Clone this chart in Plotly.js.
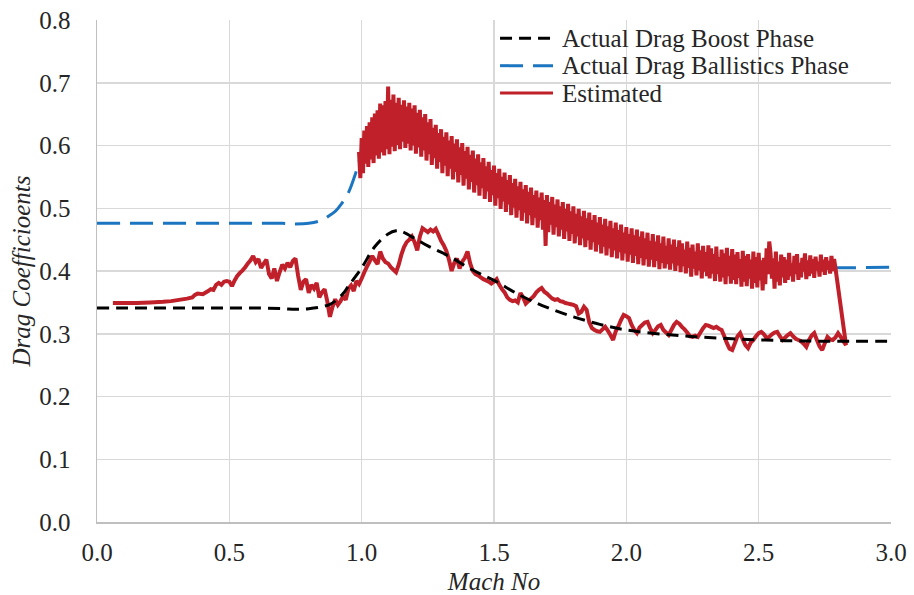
<!DOCTYPE html>
<html>
<head>
<meta charset="utf-8">
<script src="https://cdn.plot.ly/plotly-3.0.1.min.js"></script>
<style>html,body{margin:0;padding:0;background:#fff;}#chart{width:914px;height:595px;}</style>
</head>
<body>
<div id="chart"></div>
<script>
// ---- Actual drag, boost phase ----
const boostMach = [0, 0.1, 0.2, 0.3, 0.4, 0.5, 0.6, 0.7, 0.75, 0.8, 0.85, 0.88, 0.9, 0.93, 0.95, 1.0, 1.05, 1.1, 1.13, 1.15, 1.2, 1.25, 1.3, 1.35, 1.4, 1.45, 1.5, 1.6, 1.7, 1.8, 1.9, 2.0, 2.2, 2.4, 2.6, 2.8, 3.0];
const boostCd   = [0.341, 0.341, 0.341, 0.341, 0.341, 0.341, 0.341, 0.340, 0.339, 0.340, 0.343, 0.347, 0.352, 0.364, 0.376, 0.405, 0.439, 0.459, 0.464, 0.463, 0.452, 0.440, 0.430, 0.419, 0.406, 0.395, 0.385, 0.361, 0.342, 0.327, 0.315, 0.306, 0.297, 0.292, 0.289, 0.288, 0.288];

// ---- Actual drag, ballistics phase ----
const ballMach = [0, 0.1, 0.2, 0.3, 0.4, 0.5, 0.6, 0.7, 0.75, 0.8, 0.85, 0.88, 0.9, 0.92, 0.95, 0.975, 1.0, 1.05, 1.1, 1.15, 1.2, 1.3, 1.4, 1.5, 1.6, 1.7, 1.8, 1.9, 2.0, 2.1, 2.2, 2.3, 2.4, 2.5, 2.6, 2.8, 3.0];
const ballCd   = [0.476, 0.476, 0.476, 0.476, 0.476, 0.476, 0.476, 0.476, 0.475, 0.476, 0.481, 0.489, 0.495, 0.505, 0.525, 0.553, 0.585, 0.615, 0.632, 0.634, 0.628, 0.598, 0.566, 0.535, 0.507, 0.486, 0.468, 0.453, 0.440, 0.430, 0.421, 0.414, 0.409, 0.406, 0.405, 0.405, 0.406];

// ---- Estimated drag: boost leg (Mach increasing) ----
const estBoostMach = [0.06, 0.10, 0.15, 0.20, 0.25, 0.28, 0.31, 0.34, 0.36, 0.37, 0.38, 0.40, 0.42, 0.43, 0.44, 0.45, 0.46, 0.47, 0.48, 0.49,
  0.50, 0.51, 0.52, 0.53, 0.54, 0.55, 0.56, 0.57, 0.58, 0.59, 0.60, 0.61, 0.62, 0.63, 0.64, 0.65, 0.66, 0.67, 0.68, 0.69,
  0.70, 0.71, 0.72, 0.73, 0.74, 0.75, 0.76, 0.77, 0.78, 0.79, 0.80, 0.81, 0.82, 0.83, 0.84, 0.85, 0.86, 0.87, 0.88, 0.89,
  0.90, 0.91, 0.92, 0.93, 0.94, 0.95, 0.96, 0.97, 0.98, 0.99, 1.00, 1.01, 1.02, 1.03, 1.04, 1.05, 1.06, 1.07, 1.08, 1.09,
  1.10, 1.11, 1.12, 1.13, 1.14, 1.15, 1.16, 1.17, 1.18, 1.19, 1.20, 1.21, 1.22, 1.23, 1.24, 1.25, 1.26, 1.27, 1.28, 1.29,
  1.30, 1.31, 1.32, 1.33, 1.34, 1.35, 1.36, 1.37, 1.38, 1.39, 1.40, 1.41, 1.42, 1.43, 1.44, 1.45, 1.46, 1.47, 1.48, 1.49,
  1.50, 1.51, 1.52, 1.53, 1.54, 1.55, 1.56, 1.57, 1.58, 1.59, 1.60, 1.61, 1.62, 1.63, 1.64, 1.65, 1.66, 1.67, 1.68, 1.69,
  1.70, 1.71, 1.72, 1.73, 1.74, 1.75, 1.76, 1.77, 1.78, 1.79, 1.80, 1.81, 1.82, 1.83, 1.84, 1.85, 1.86, 1.87, 1.88, 1.89,
  1.90, 1.91, 1.92, 1.93, 1.94, 1.95, 1.96, 1.97, 1.98, 1.99, 2.00, 2.01, 2.02, 2.03, 2.04, 2.05, 2.06, 2.07, 2.08, 2.09,
  2.10, 2.11, 2.12, 2.13, 2.14, 2.15, 2.16, 2.17, 2.18, 2.19, 2.20, 2.21, 2.22, 2.23, 2.24, 2.25, 2.26, 2.27, 2.28, 2.29,
  2.30, 2.31, 2.32, 2.33, 2.34, 2.35, 2.36, 2.37, 2.38, 2.39, 2.40, 2.41, 2.42, 2.43, 2.44, 2.45, 2.46, 2.47, 2.48, 2.49,
  2.50, 2.51, 2.52, 2.53, 2.54, 2.55, 2.56, 2.57, 2.58, 2.59, 2.60, 2.61, 2.62, 2.63, 2.64, 2.65, 2.66, 2.67, 2.68, 2.69,
  2.70, 2.71, 2.72, 2.73, 2.74, 2.75, 2.76, 2.77, 2.78, 2.79, 2.80, 2.81, 2.82, 2.83];
const estBoostCd = [0.349, 0.349, 0.349, 0.350, 0.351, 0.352, 0.354, 0.356, 0.358, 0.362, 0.364, 0.363, 0.368, 0.371, 0.370, 0.378, 0.381, 0.378, 0.383, 0.384,
  0.383, 0.376, 0.385, 0.392, 0.397, 0.401, 0.406, 0.412, 0.417, 0.424, 0.414, 0.419, 0.405, 0.412, 0.418, 0.395, 0.388, 0.404, 0.384, 0.398,
  0.410, 0.404, 0.413, 0.406, 0.416, 0.420, 0.392, 0.370, 0.383, 0.387, 0.365, 0.378, 0.372, 0.381, 0.358, 0.366, 0.371, 0.352, 0.327, 0.343,
  0.355, 0.346, 0.352, 0.360, 0.354, 0.372, 0.377, 0.368, 0.384, 0.379, 0.388, 0.398, 0.407, 0.415, 0.424, 0.417, 0.411, 0.431, 0.420, 0.414,
  0.412, 0.406, 0.402, 0.398, 0.410, 0.426, 0.438, 0.446, 0.450, 0.455, 0.446, 0.433, 0.455, 0.468, 0.465, 0.462, 0.466, 0.463, 0.467, 0.458,
  0.448, 0.441, 0.432, 0.418, 0.400, 0.413, 0.420, 0.404, 0.415, 0.421, 0.431, 0.412, 0.400, 0.395, 0.393, 0.390, 0.387, 0.385, 0.383, 0.380,
  0.383, 0.387, 0.378, 0.371, 0.366, 0.358, 0.354, 0.352, 0.353, 0.350, 0.365, 0.358, 0.348, 0.352, 0.356, 0.360, 0.366, 0.370, 0.373, 0.367,
  0.364, 0.360, 0.356, 0.354, 0.355, 0.352, 0.351, 0.349, 0.348, 0.347, 0.346, 0.344, 0.332, 0.335, 0.343, 0.338, 0.318, 0.309, 0.306, 0.304,
  0.303, 0.307, 0.311, 0.305, 0.298, 0.290, 0.304, 0.312, 0.322, 0.330, 0.328, 0.325, 0.314, 0.306, 0.301, 0.310, 0.314, 0.318, 0.319, 0.309,
  0.301, 0.306, 0.312, 0.314, 0.306, 0.302, 0.298, 0.306, 0.314, 0.319, 0.316, 0.311, 0.307, 0.302, 0.296, 0.295, 0.297, 0.295, 0.302, 0.309,
  0.314, 0.313, 0.311, 0.309, 0.311, 0.308, 0.306, 0.296, 0.285, 0.276, 0.274, 0.285, 0.296, 0.301, 0.291, 0.282, 0.277, 0.286, 0.290, 0.296,
  0.301, 0.303, 0.299, 0.293, 0.295, 0.299, 0.302, 0.303, 0.296, 0.290, 0.294, 0.298, 0.301, 0.296, 0.292, 0.290, 0.288, 0.284, 0.279, 0.290,
  0.297, 0.301, 0.290, 0.280, 0.274, 0.285, 0.295, 0.291, 0.290, 0.294, 0.301, 0.295, 0.288, 0.282];

// ---- Estimated drag: ballistic leg (Mach decreasing, dense noisy record) ----
const estBallMach = [
  2.790, 2.785, 2.780, 2.775, 2.770, 2.765, 2.760, 2.755, 2.750, 2.745,
  2.740, 2.735, 2.730, 2.725, 2.720, 2.715, 2.710, 2.705, 2.700, 2.695,
  2.690, 2.685, 2.680, 2.675, 2.670, 2.665, 2.660, 2.655, 2.650, 2.645,
  2.640, 2.635, 2.630, 2.625, 2.620, 2.615, 2.610, 2.605, 2.600, 2.595,
  2.590, 2.585, 2.580, 2.575, 2.570, 2.565, 2.560, 2.555, 2.550, 2.545,
  2.540, 2.535, 2.530, 2.525, 2.520, 2.515, 2.510, 2.505, 2.500, 2.495,
  2.490, 2.485, 2.480, 2.475, 2.470, 2.465, 2.460, 2.455, 2.450, 2.445,
  2.440, 2.435, 2.430, 2.425, 2.420, 2.415, 2.410, 2.405, 2.400, 2.395,
  2.390, 2.385, 2.380, 2.375, 2.370, 2.365, 2.360, 2.355, 2.350, 2.345,
  2.340, 2.335, 2.330, 2.325, 2.320, 2.315, 2.310, 2.305, 2.300, 2.295,
  2.290, 2.285, 2.280, 2.275, 2.270, 2.265, 2.260, 2.255, 2.250, 2.245,
  2.240, 2.235, 2.230, 2.225, 2.220, 2.215, 2.210, 2.205, 2.200, 2.195,
  2.190, 2.185, 2.180, 2.175, 2.170, 2.165, 2.160, 2.155, 2.150, 2.145,
  2.140, 2.135, 2.130, 2.125, 2.120, 2.115, 2.110, 2.105, 2.100, 2.095,
  2.090, 2.085, 2.080, 2.075, 2.070, 2.065, 2.060, 2.055, 2.050, 2.045,
  2.040, 2.035, 2.030, 2.025, 2.020, 2.015, 2.010, 2.005, 2.000, 1.995,
  1.990, 1.985, 1.980, 1.975, 1.970, 1.965, 1.960, 1.955, 1.950, 1.945,
  1.940, 1.935, 1.930, 1.925, 1.920, 1.915, 1.910, 1.905, 1.900, 1.895,
  1.890, 1.885, 1.880, 1.875, 1.870, 1.865, 1.860, 1.855, 1.850, 1.845,
  1.840, 1.835, 1.830, 1.825, 1.820, 1.815, 1.810, 1.805, 1.800, 1.795,
  1.790, 1.785, 1.780, 1.775, 1.770, 1.765, 1.760, 1.755, 1.750, 1.745,
  1.740, 1.735, 1.730, 1.725, 1.720, 1.715, 1.710, 1.705, 1.700, 1.695,
  1.690, 1.685, 1.680, 1.675, 1.670, 1.665, 1.660, 1.655, 1.650, 1.645,
  1.640, 1.635, 1.630, 1.625, 1.620, 1.615, 1.610, 1.605, 1.600, 1.595,
  1.590, 1.585, 1.580, 1.575, 1.570, 1.565, 1.560, 1.555, 1.550, 1.545,
  1.540, 1.535, 1.530, 1.525, 1.520, 1.515, 1.510, 1.505, 1.500, 1.495,
  1.490, 1.485, 1.480, 1.475, 1.470, 1.465, 1.460, 1.455, 1.450, 1.445,
  1.440, 1.435, 1.430, 1.425, 1.420, 1.415, 1.410, 1.405, 1.400, 1.395,
  1.390, 1.385, 1.380, 1.375, 1.370, 1.365, 1.360, 1.355, 1.350, 1.345,
  1.340, 1.335, 1.330, 1.325, 1.320, 1.315, 1.310, 1.305, 1.300, 1.295,
  1.290, 1.285, 1.280, 1.275, 1.270, 1.265, 1.260, 1.255, 1.250, 1.245,
  1.240, 1.235, 1.230, 1.225, 1.220, 1.215, 1.210, 1.205, 1.200, 1.195,
  1.190, 1.185, 1.180, 1.175, 1.170, 1.165, 1.160, 1.155, 1.150, 1.145,
  1.140, 1.135, 1.130, 1.125, 1.120, 1.115, 1.110, 1.105, 1.100, 1.095,
  1.090, 1.085, 1.080, 1.075, 1.070, 1.065, 1.060, 1.055, 1.050, 1.045,
  1.040, 1.035, 1.030, 1.025, 1.020, 1.015, 1.010, 1.005, 1.000, 0.995,
  0.990];
const estBallCd = [
  0.405, 0.419, 0.400, 0.424, 0.396, 0.416, 0.402, 0.422, 0.394, 0.418,
  0.399, 0.426, 0.391, 0.415, 0.401, 0.423, 0.389, 0.419, 0.396, 0.425,
  0.392, 0.417, 0.387, 0.428, 0.399, 0.421, 0.390, 0.413, 0.386, 0.427,
  0.395, 0.424, 0.383, 0.412, 0.392, 0.429, 0.386, 0.418, 0.381, 0.422,
  0.390, 0.426, 0.377, 0.415, 0.383, 0.431, 0.372, 0.420, 0.388, 0.428,
  0.447, 0.395, 0.436, 0.379, 0.421, 0.369, 0.417, 0.385, 0.429, 0.374,
  0.422, 0.381, 0.431, 0.372, 0.418, 0.388, 0.427, 0.376, 0.424, 0.383,
  0.432, 0.375, 0.419, 0.389, 0.430, 0.379, 0.426, 0.386, 0.435, 0.380,
  0.424, 0.392, 0.437, 0.379, 0.428, 0.390, 0.434, 0.383, 0.422, 0.395,
  0.439, 0.384, 0.427, 0.396, 0.436, 0.388, 0.441, 0.392, 0.430, 0.399,
  0.440, 0.388, 0.433, 0.401, 0.444, 0.393, 0.431, 0.404, 0.442, 0.391,
  0.437, 0.405, 0.447, 0.396, 0.434, 0.408, 0.444, 0.398, 0.449, 0.409,
  0.438, 0.400, 0.450, 0.412, 0.442, 0.402, 0.452, 0.411, 0.440, 0.404,
  0.455, 0.413, 0.444, 0.403, 0.457, 0.416, 0.447, 0.406, 0.459, 0.418,
  0.448, 0.407, 0.461, 0.419, 0.452, 0.409, 0.463, 0.421, 0.455, 0.411,
  0.466, 0.424, 0.457, 0.413, 0.468, 0.426, 0.459, 0.415, 0.470, 0.428,
  0.461, 0.417, 0.474, 0.430, 0.465, 0.420, 0.477, 0.433, 0.468, 0.422,
  0.480, 0.436, 0.471, 0.425, 0.483, 0.439, 0.474, 0.428, 0.486, 0.442,
  0.477, 0.431, 0.489, 0.446, 0.481, 0.434, 0.493, 0.449, 0.484, 0.438,
  0.496, 0.452, 0.487, 0.441, 0.499, 0.455, 0.491, 0.444, 0.503, 0.459,
  0.495, 0.448, 0.507, 0.463, 0.499, 0.451, 0.510, 0.466, 0.503, 0.455,
  0.514, 0.470, 0.506, 0.458, 0.518, 0.474, 0.510, 0.462, 0.521, 0.440,
  0.513, 0.466, 0.525, 0.481, 0.517, 0.469, 0.528, 0.485, 0.521, 0.473,
  0.533, 0.489, 0.526, 0.476, 0.537, 0.493, 0.530, 0.480, 0.542, 0.497,
  0.535, 0.485, 0.547, 0.501, 0.540, 0.489, 0.553, 0.506, 0.545, 0.494,
  0.557, 0.511, 0.550, 0.499, 0.563, 0.516, 0.556, 0.504, 0.568, 0.521,
  0.561, 0.510, 0.574, 0.527, 0.567, 0.515, 0.580, 0.532, 0.573, 0.520,
  0.586, 0.537, 0.579, 0.525, 0.592, 0.542, 0.585, 0.530, 0.598, 0.547,
  0.591, 0.536, 0.604, 0.553, 0.597, 0.541, 0.610, 0.558, 0.603, 0.546,
  0.615, 0.563, 0.608, 0.551, 0.621, 0.568, 0.614, 0.556, 0.626, 0.574,
  0.620, 0.563, 0.633, 0.580, 0.628, 0.569, 0.642, 0.586, 0.637, 0.576,
  0.650, 0.592, 0.645, 0.582, 0.657, 0.597, 0.652, 0.587, 0.664, 0.600,
  0.659, 0.592, 0.668, 0.603, 0.662, 0.596, 0.672, 0.606, 0.665, 0.594,
  0.676, 0.601, 0.668, 0.591, 0.681, 0.598, 0.673, 0.586, 0.694, 0.594,
  0.671, 0.584, 0.664, 0.589, 0.667, 0.579, 0.656, 0.584, 0.651, 0.572,
  0.645, 0.578, 0.637, 0.566, 0.631, 0.571, 0.624, 0.556, 0.612, 0.548,
  0.590];

const estMach = estBoostMach.concat(estBallMach);
const estCd = estBoostCd.concat(estBallCd);

const seriesNames = ['Actual Drag Boost Phase', 'Actual Drag Ballistics Phase', 'Estimated'];
const seriesColors = ['#000000', '#1c75c0', '#c0202a'];
const seriesDash = ['12px,7px', '23px,10px', 'solid'];
const xTickVals = [0, 0.5, 1.0, 1.5, 2.0, 2.5, 3.0];
const yTickVals = [0, 0.1, 0.2, 0.3, 0.4, 0.5, 0.6, 0.7, 0.8];

const traces = [
  {x: ballMach, y: ballCd, name: seriesNames[1], type: 'scatter', mode: 'lines', showlegend: false,
   line: {color: seriesColors[1], width: 3, dash: seriesDash[1], shape: 'spline'}},
  {x: estMach, y: estCd, name: seriesNames[2], type: 'scatter', mode: 'lines', showlegend: false,
   line: {color: seriesColors[2], width: 4, simplify: false}},
  {x: boostMach, y: boostCd, name: seriesNames[0], type: 'scatter', mode: 'lines', showlegend: false,
   line: {color: seriesColors[0], width: 3, dash: seriesDash[0], shape: 'spline'}}
];

const FONT = '"Liberation Serif", "Times New Roman", serif';
const TXT = '#262626';

// legend drawn as paper-positioned key (rows stacked tightly as in the source)
const legendShapes = [], legendAnn = [];
seriesNames.forEach(function (nm, i) {
  const yy = 0.9635 - i * 0.0545;
  legendShapes.push({type: 'line', xref: 'paper', yref: 'paper', x0: 0.5076, x1: 0.5743, y0: yy, y1: yy,
    line: {color: seriesColors[i], width: 3, dash: seriesDash[i]}});
  legendAnn.push({xref: 'paper', yref: 'paper', x: 0.583, y: yy, xanchor: 'left', yanchor: 'middle',
    text: nm, showarrow: false, font: {family: FONT, size: 25, color: TXT}});
});

const layout = {
  width: 914, height: 595,
  margin: {l: 97, r: 23, t: 20, b: 73},
  paper_bgcolor: '#ffffff', plot_bgcolor: '#ffffff',
  font: {family: FONT, size: 25, color: TXT},
  showlegend: false,
  shapes: legendShapes,
  annotations: legendAnn,
  xaxis: {range: [0, 3.0], tickvals: xTickVals, tickformat: '.1f', showgrid: true, gridcolor: '#d9d9d9', gridwidth: 1.5,
          zeroline: false, showline: true, linecolor: '#bfbfbf', linewidth: 1.5, ticks: '', ticklabelstandoff: 7,
          tickfont: {family: FONT, size: 25, color: TXT},
          title: {text: 'Mach No', font: {family: FONT, size: 25, style: 'italic', color: TXT}, standoff: 9}},
  yaxis: {range: [0, 0.8], tickvals: yTickVals, tickformat: '.1f', showgrid: true, gridcolor: '#d9d9d9', gridwidth: 1.5,
          zeroline: false, showline: true, linecolor: '#bfbfbf', linewidth: 1.5, ticks: '', ticklabelstandoff: 20,
          tickfont: {family: FONT, size: 25, color: TXT},
          title: {text: 'Drag Coefficioents', font: {family: FONT, size: 25, style: 'italic', color: TXT}, standoff: 1}}
};

Plotly.newPlot('chart', traces, layout, {displayModeBar: false, staticPlot: true});
</script>
</body>
</html>
